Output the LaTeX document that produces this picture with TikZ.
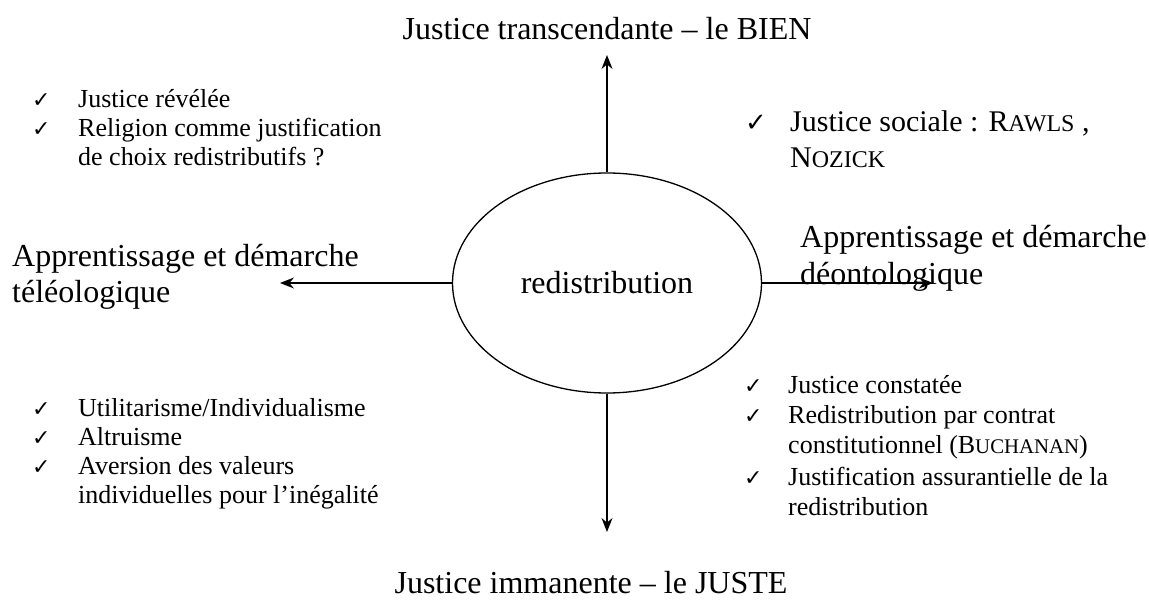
\documentclass[tikz,border=0pt]{standalone}
\usepackage{fontspec}
\setmainfont{Liberation Serif}
\newfontfamily\symfont{DejaVu Sans}
\usetikzlibrary{shapes.geometric,arrows.meta}
\newcommand{\fsc}[2]{#1{\fontsize{0.8\dimexpr\fontdimen6\font\relax}{1em}\selectfont #2}}
\tikzset{
  big/.style={font=\fontsize{32}{36}\selectfont, inner sep=0pt},
  mid/.style={font=\fontsize{30}{34}\selectfont, inner sep=0pt},
  small/.style={font=\fontsize{26}{29}\selectfont, inner sep=0pt},
  chk/.style={font=\symfont\fontsize{22}{24}\selectfont, inner sep=0pt},
  bigchk/.style={font=\symfont\fontsize{26}{28}\selectfont, inner sep=0pt},
  arr/.style={-{Stealth[length=14pt,width=11pt]}, line width=1.3pt},
}
\begin{document}
\begin{tikzpicture}[x=1pt,y=-1pt]
\useasboundingbox (0,0) rectangle (1149,604);
\node[draw, ellipse, line width=1.3pt, minimum width=309pt, minimum height=220pt, big] (c) at (607,283) {redistribution};
\coordinate (up) at (607,55);
\coordinate (down) at (607,532);
\coordinate (left) at (280,283);
\coordinate (right) at (933,283);
\draw[arr] (c.north) -- (up);
\draw[arr] (c.south) -- (down);
\draw[arr] (c.west) -- (left);
\draw[arr] (c.east) -- (right);
% titles
\node[big, anchor=base] (tt) at (607,40) {Justice transcendante – le BIEN};
\node[big, anchor=base] (bt) at (591,593) {Justice immanente – le JUSTE};
% side labels
\node[big, anchor=base west] (l1) at (12,267) {Apprentissage et démarche};
\node[big, anchor=base west] (l2) at (12,302) {téléologique};
\node[big, anchor=base west] (r1) at (800,248) {Apprentissage et démarche};
\node[big, anchor=base west] (r2) at (800,284) {déontologique};
% top right
\node[bigchk, anchor=base west] (trc) at (745,132) {✓};
\node[mid, anchor=base west] (tr1) at (790,132) {Justice sociale : \fsc{R}{AWLS} ,};
\node[mid, anchor=base west] (tr2) at (790,168) {\fsc{N}{OZICK}};
% top left
\node[chk, anchor=base west] (tlc1) at (32,108) {✓};
\node[small, anchor=base west] (tl1) at (78,108) {Justice révélée};
\node[chk, anchor=base west] (tlc2) at (32,137) {✓};
\node[small, anchor=base west] (tl2) at (78,137) {Religion comme justification};
\node[small, anchor=base west] (tl3) at (78,166) {de choix redistributifs ?};
% bottom left
\node[chk, anchor=base west] (blc1) at (32,416) {✓};
\node[small, anchor=base west] (bl1) at (78,416) {Utilitarisme/Individualisme};
\node[chk, anchor=base west] (blc2) at (32,445) {✓};
\node[small, anchor=base west] (bl2) at (78,445) {Altruisme};
\node[chk, anchor=base west] (blc3) at (32,474) {✓};
\node[small, anchor=base west] (bl3) at (78,474) {Aversion des valeurs};
\node[small, anchor=base west] (bl4) at (78,503) {individuelles pour l’inégalité};
% bottom right
\node[chk, anchor=base west] (brc1) at (744,393) {✓};
\node[small, anchor=base west] (br1) at (788,393) {Justice constatée};
\node[chk, anchor=base west] (brc2) at (744,423) {✓};
\node[small, anchor=base west] (br2) at (788,423) {Redistribution par contrat};
\node[small, anchor=base west] (br3) at (788,453) {constitutionnel (\fsc{B}{UCHANAN})};
\node[chk, anchor=base west] (brc3) at (744,485) {✓};
\node[small, anchor=base west] (br4) at (788,485) {Justification assurantielle de la};
\node[small, anchor=base west] (br5) at (788,515) {redistribution};
\end{tikzpicture}
\end{document}
